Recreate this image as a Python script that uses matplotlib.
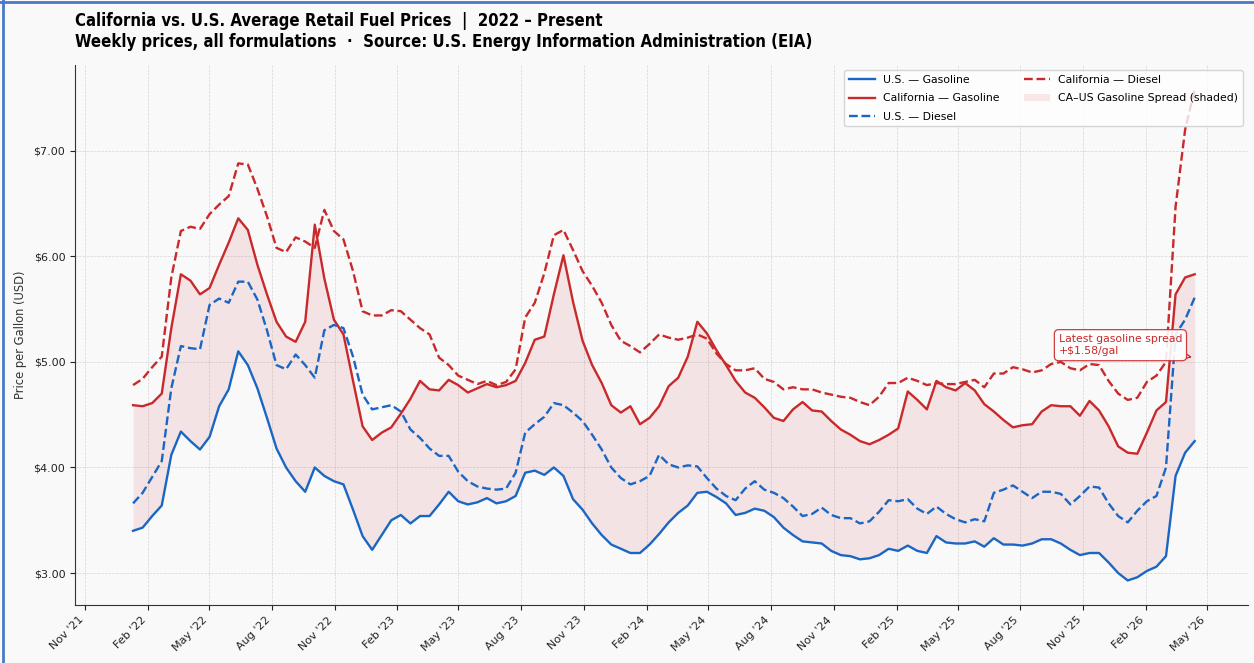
import pandas as pd
import matplotlib
matplotlib.use("Agg")
import matplotlib.pyplot as plt
import matplotlib.dates as mdates
from matplotlib.ticker import MultipleLocator, StrMethodFormatter
from matplotlib.lines import Line2D

# biweekly readings, Jan 2022 -> Apr 2026
dates = pd.date_range(end="2026-04-13", periods=112, freq="14D")

us_gas = [
    3.40, 3.43, 3.54, 3.64, 4.12, 4.34, 4.25, 4.17, 4.29, 4.58,
    4.74, 5.10, 4.97, 4.75, 4.47, 4.18, 4.00, 3.87, 3.77, 4.00,
    3.92, 3.87, 3.84, 3.60, 3.35, 3.22, 3.36, 3.50, 3.55, 3.47,
    3.54, 3.54, 3.65, 3.77, 3.68, 3.65, 3.67, 3.71, 3.66, 3.68,
    3.73, 3.95, 3.97, 3.93, 4.00, 3.92, 3.70, 3.60, 3.47, 3.36,
    3.27, 3.23, 3.19, 3.19, 3.27, 3.37, 3.48, 3.57, 3.64, 3.76,
    3.77, 3.72, 3.66, 3.55, 3.57, 3.61, 3.59, 3.53, 3.43, 3.36,
    3.30, 3.29, 3.28, 3.21, 3.17, 3.16, 3.13, 3.14, 3.17, 3.23,
    3.21, 3.26, 3.21, 3.19, 3.35, 3.29, 3.28, 3.28, 3.30, 3.25,
    3.33, 3.27, 3.27, 3.26, 3.28, 3.32, 3.32, 3.28, 3.22, 3.17,
    3.19, 3.19, 3.10, 3.00, 2.93, 2.96, 3.02, 3.06, 3.16, 3.92,
    4.14, 4.25]

ca_gas = [
    4.59, 4.58, 4.61, 4.70, 5.32, 5.83, 5.77, 5.64, 5.70, 5.92,
    6.13, 6.36, 6.25, 5.92, 5.64, 5.38, 5.24, 5.19, 5.38, 6.30,
    5.79, 5.40, 5.26, 4.82, 4.39, 4.26, 4.33, 4.38, 4.51, 4.65,
    4.82, 4.74, 4.73, 4.83, 4.78, 4.71, 4.75, 4.79, 4.76, 4.78,
    4.82, 4.99, 5.21, 5.24, 5.64, 6.01, 5.57, 5.20, 4.97, 4.80,
    4.59, 4.52, 4.58, 4.41, 4.47, 4.58, 4.77, 4.85, 5.05, 5.38,
    5.27, 5.11, 4.97, 4.82, 4.71, 4.66, 4.57, 4.47, 4.44, 4.55,
    4.62, 4.54, 4.53, 4.44, 4.36, 4.31, 4.25, 4.22, 4.26, 4.31,
    4.37, 4.72, 4.64, 4.55, 4.82, 4.76, 4.73, 4.80, 4.73, 4.60,
    4.53, 4.45, 4.38, 4.40, 4.41, 4.53, 4.59, 4.58, 4.58, 4.49,
    4.63, 4.54, 4.39, 4.20, 4.14, 4.13, 4.33, 4.54, 4.62, 5.64,
    5.80, 5.83]

us_diesel = [
    3.66, 3.76, 3.91, 4.06, 4.75, 5.15, 5.13, 5.12, 5.54, 5.60,
    5.56, 5.76, 5.76, 5.59, 5.30, 4.97, 4.93, 5.07, 4.97, 4.85,
    5.30, 5.35, 5.32, 5.05, 4.69, 4.55, 4.57, 4.59, 4.53, 4.36,
    4.28, 4.18, 4.11, 4.11, 3.96, 3.87, 3.82, 3.80, 3.79, 3.80,
    3.95, 4.33, 4.41, 4.48, 4.61, 4.59, 4.52, 4.44, 4.31, 4.17,
    4.00, 3.90, 3.84, 3.87, 3.92, 4.12, 4.03, 4.00, 4.02, 4.01,
    3.90, 3.80, 3.73, 3.69, 3.80, 3.87, 3.79, 3.76, 3.71, 3.63,
    3.54, 3.56, 3.62, 3.55, 3.52, 3.52, 3.47, 3.49, 3.58, 3.69,
    3.68, 3.70, 3.61, 3.56, 3.63, 3.56, 3.51, 3.48, 3.51, 3.49,
    3.76, 3.79, 3.83, 3.77, 3.71, 3.77, 3.77, 3.75, 3.65, 3.73,
    3.82, 3.81, 3.66, 3.54, 3.48, 3.59, 3.68, 3.73, 4.00, 5.26,
    5.40, 5.61]

ca_diesel = [
    4.78, 4.84, 4.95, 5.05, 5.80, 6.24, 6.28, 6.26, 6.40, 6.49,
    6.57, 6.88, 6.87, 6.64, 6.38, 6.08, 6.04, 6.18, 6.14, 6.08,
    6.44, 6.24, 6.16, 5.86, 5.48, 5.44, 5.44, 5.49, 5.48, 5.40,
    5.32, 5.26, 5.04, 4.97, 4.87, 4.83, 4.79, 4.82, 4.78, 4.81,
    4.93, 5.42, 5.56, 5.84, 6.20, 6.25, 6.06, 5.86, 5.72, 5.56,
    5.35, 5.20, 5.15, 5.09, 5.17, 5.26, 5.23, 5.21, 5.23, 5.26,
    5.22, 5.08, 4.98, 4.92, 4.92, 4.94, 4.84, 4.81, 4.74, 4.76,
    4.74, 4.74, 4.71, 4.69, 4.67, 4.66, 4.62, 4.59, 4.67, 4.80,
    4.80, 4.85, 4.82, 4.78, 4.80, 4.79, 4.79, 4.81, 4.83, 4.76,
    4.89, 4.89, 4.95, 4.93, 4.90, 4.92, 4.98, 5.00, 4.94, 4.92,
    4.98, 4.97, 4.82, 4.70, 4.64, 4.66, 4.81, 4.87, 5.00, 6.47,
    7.20, 7.58]

BLUE = "#1a66c4"
RED = "#c9292b"
BG = "#f9f9f9"

fig = plt.figure(figsize=(12.54, 6.63), dpi=100, facecolor=BG)
ax = fig.add_axes([0.0598, 0.0875, 0.9354, 0.8145], facecolor=BG)

ax.plot(dates, us_gas, color=BLUE, lw=1.7, label="U.S. — Gasoline")
ax.plot(dates, ca_gas, color=RED, lw=1.7, label="California — Gasoline")
ax.plot(dates, us_diesel, color=BLUE, lw=1.7, ls="--", label="U.S. — Diesel")
ax.plot(dates, ca_diesel, color=RED, lw=1.7, ls="--", label="California — Diesel")
ax.fill_between(dates, us_gas, ca_gas, color=RED, alpha=0.10, lw=0,
                label="CA–US Gasoline Spread (shaded)")

ax.set_xlim(pd.Timestamp("2021-10-17"), pd.Timestamp("2026-06-30"))
ax.xaxis.set_major_locator(mdates.MonthLocator(bymonth=(2, 5, 8, 11)))
ax.xaxis.set_major_formatter(mdates.DateFormatter("%b '%y"))
ax.yaxis.set_major_locator(MultipleLocator(1))
ax.yaxis.set_major_formatter(StrMethodFormatter("${x:.2f}"))
plt.setp(ax.get_xticklabels(), rotation=45, ha="right")
ax.tick_params(labelsize=8, colors="#222222", length=3.5)

ax.grid(True, ls="--", lw=0.5, color="#c4c4c4", alpha=0.7)
ax.set_axisbelow(True)
for s in ("top", "right"):
    ax.spines[s].set_visible(False)
for s in ("left", "bottom"):
    ax.spines[s].set_color("#333333")

ax.set_ylabel("Price per Gallon (USD)", fontsize=8.3, color="#333333", labelpad=5)
ax.set_title("California vs. U.S. Average Retail Fuel Prices  |  2022 – Present\n"
             "Weekly prices, all formulations  ·  Source: U.S. Energy Information Administration (EIA)",
             loc="left", fontsize=12, fontweight="bold", fontstretch="condensed",
             pad=13, linespacing=1.2)

ax.legend(loc="upper right", ncol=2, fontsize=7.8, frameon=True, facecolor="white",
          edgecolor="#cccccc", handlelength=2.4, columnspacing=2.2, labelspacing=0.8)

spread = ca_gas[-1] - us_gas[-1]
mid = (ca_gas[-1] + us_gas[-1]) / 2
ax.annotate("Latest gasoline spread\n+${:.2f}/gal".format(spread),
            xy=(dates[-1], mid), xytext=(-9, 9), textcoords="offset points",
            ha="right", va="center", multialignment="left", fontsize=7.8, color=RED,
            linespacing=1.3,
            bbox=dict(boxstyle="round,pad=0.4", fc="white", ec=RED, lw=0.9, alpha=0.9),
            arrowprops=dict(arrowstyle="->", color=RED, lw=0.9))

# thin blue frame on the left and top edges
fig.add_artist(Line2D([0.002, 0.002], [0, 1], transform=fig.transFigure, color="#4a78c8", lw=2))
fig.add_artist(Line2D([0, 1], [0.997, 0.997], transform=fig.transFigure, color="#4a78c8", lw=2))

fig.savefig("out.png", dpi=100, facecolor=BG)
